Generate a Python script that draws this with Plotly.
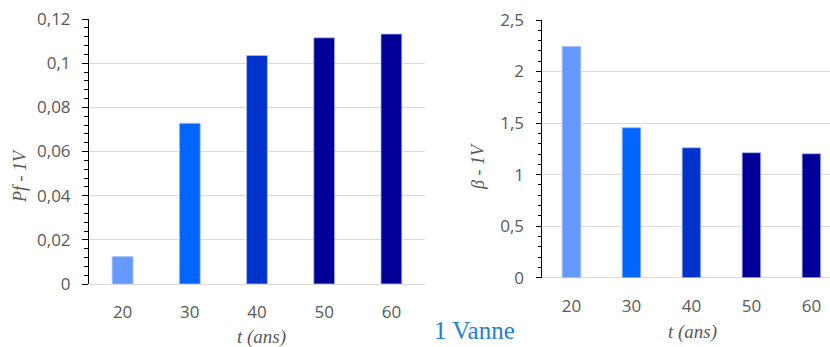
import plotly.graph_objects as go

years = ["20", "30", "40", "50", "60"]
pf_values = [0.0124, 0.0728, 0.1035, 0.1115, 0.1132]
beta_values = [2.244, 1.455, 1.261, 1.213, 1.203]
bar_colors = ["#6699FF", "#0066FF", "#0033CC", "#000099", "#000099"]

W, H = 830, 347
TICK_FONT = dict(family="Open Sans", size=17, color="#595959")
TITLE_FONT = dict(family="Liberation Serif", size=19, color="#595959")
GRID = "#d9d9d9"

fig = go.Figure()
fig.add_trace(go.Bar(x=years, y=pf_values, marker=dict(color=bar_colors, line=dict(color="#a9bff5", width=0.8)),
                     width=0.31, xaxis="x", yaxis="y", showlegend=False, hoverinfo="skip"))
fig.add_trace(go.Bar(x=years, y=beta_values, marker=dict(color=bar_colors, line=dict(color="#a9bff5", width=0.8)),
                     width=0.31, xaxis="x2", yaxis="y2", showlegend=False, hoverinfo="skip"))


def yax(domain, rng, dtick, mdtick, anchor, tl, mtl, overlay=None):
    d = dict(domain=domain, range=rng, dtick=dtick, anchor=anchor, fixedrange=True,
             tickcolor="black", ticklen=tl, tickwidth=1,
             minor=dict(dtick=mdtick, ticklen=mtl, tickcolor="black", tickwidth=1,
                        ticks="inside" if overlay else "outside", showgrid=False),
             automargin=False)
    if overlay:
        d.update(overlaying=overlay, ticks="inside", showgrid=False, showticklabels=False,
                 showline=False, zeroline=False, side="left")
    else:
        d.update(ticks="outside", showgrid=True, gridcolor=GRID, gridwidth=1,
                 showline=True, linecolor="black", linewidth=1,
                 zeroline=True, zerolinecolor=GRID, zerolinewidth=1,
                 tickfont=TICK_FONT, ticklabelstandoff=8)
    return d


fig.update_layout(
    width=W, height=H,
    margin=dict(l=0, r=0, t=0, b=0),
    paper_bgcolor="white", plot_bgcolor="white",
    separators=", ",
    bargap=0.0,
    xaxis=dict(domain=[89 / W, 425 / W], anchor="y", type="category", range=[-0.5, 4.5],
               showline=False, ticks="", tickfont=TICK_FONT, ticklabelstandoff=16,
               showgrid=False, automargin=False, fixedrange=True),
    xaxis2=dict(domain=[541.5 / W, 1.0], anchor="y2", type="category", range=[-0.5, 4.31],
                showline=False, ticks="", tickfont=TICK_FONT, ticklabelstandoff=16,
                showgrid=False, automargin=False, fixedrange=True),
    yaxis=yax([1 - 284 / H, 1 - 19 / H], [0, 0.12], 0.02, 0.004, "x", 6, 4),
    yaxis3=yax([1 - 284 / H, 1 - 19 / H], [0, 0.12], 0.02, 0.004, "x", 6, 5, overlay="y"),
    yaxis2=yax([1 - 277.7 / H, 1 - 20 / H], [0, 2.5], 0.5, 0.1, "x2", 5, 3),
    yaxis4=yax([1 - 277.7 / H, 1 - 20 / H], [0, 2.5], 0.5, 0.1, "x2", 5, 4, overlay="y2"),
)

ann = [
    dict(text="Pf - 1V", x=20 / W, y=1 - 176 / H, textangle=-90, font=dict(TITLE_FONT, size=18)),
    dict(text="β - 1V", x=478 / W, y=1 - 167 / H, textangle=-90, font=dict(TITLE_FONT, size=18)),
    dict(text="t (ans)", x=261 / W, y=1 - 337 / H, font=TITLE_FONT),
    dict(text="t (ans)", x=692 / W, y=1 - 332 / H, font=TITLE_FONT),
    dict(text="1 Vanne", x=474 / W, y=1 - 330 / H, font=dict(family="Liberation Serif", size=25, color="#1E82D2")),
]
for a in ann:
    a.update(xref="paper", yref="paper", showarrow=False, xanchor="center", yanchor="middle")
    if a["text"] != "1 Vanne":
        a["font"] = dict(a["font"], style="italic")
fig.update_layout(annotations=ann)

fig.write_html("out.html", config={"displayModeBar": False, "staticPlot": True},
               post_script="document.body.style.margin='0';document.body.style.overflow='hidden';")
